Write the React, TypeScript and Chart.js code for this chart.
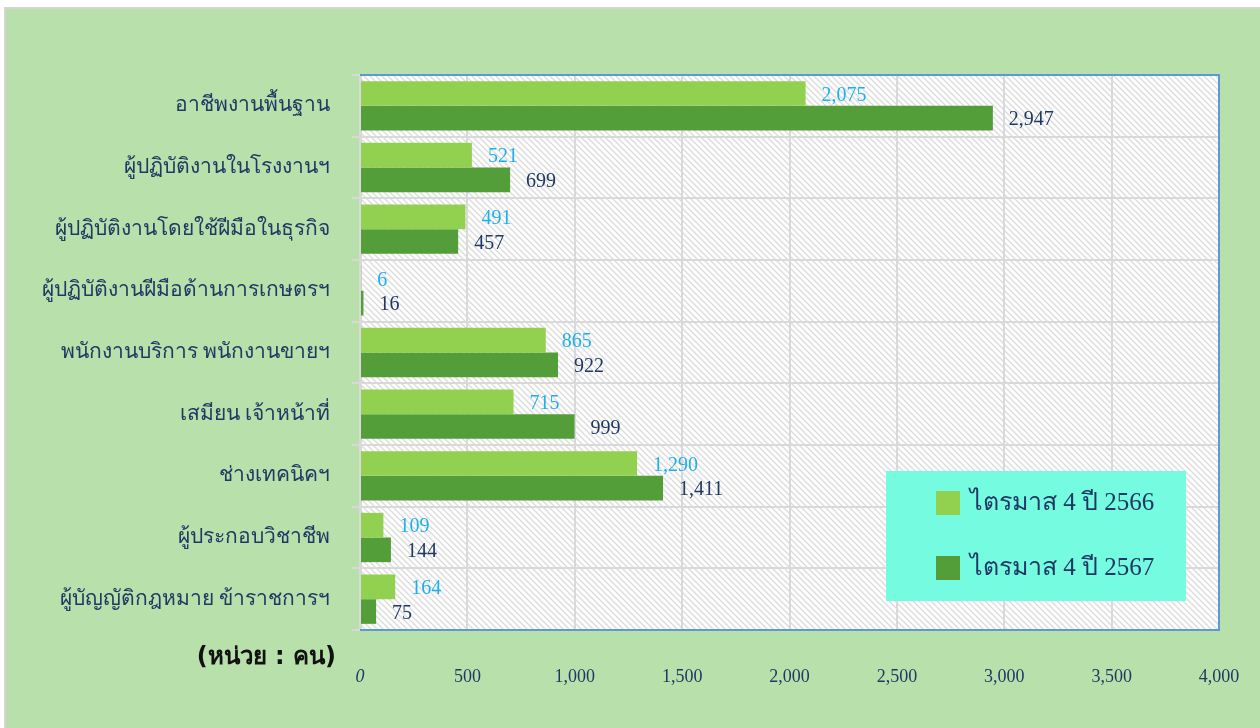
import React, { useEffect, useRef } from "react";
import { Chart, registerables } from "chart.js";

Chart.register(...registerables);

const categories = [
  "อาชีพงานพื้นฐาน",
  "ผู้ปฏิบัติงานในโรงงานฯ",
  "ผู้ปฏิบัติงานโดยใช้ฝีมือในธุรกิจ",
  "ผู้ปฏิบัติงานฝีมือด้านการเกษตรฯ",
  "พนักงานบริการ พนักงานขายฯ",
  "เสมียน เจ้าหน้าที่",
  "ช่างเทคนิคฯ",
  "ผู้ประกอบวิชาชีพ",
  "ผู้บัญญัติกฎหมาย ข้าราชการฯ",
];
const values2566 = [2075, 521, 491, 6, 865, 715, 1290, 109, 164];
const values2567 = [2947, 699, 457, 16, 922, 999, 1411, 144, 75];
const seriesLabels = ["ไตรมาส 4 ปี 2566", "ไตรมาส 4 ปี 2567"];
const unitLabel = "(หน่วย : คน)";
const xMin = 0;
const xMax = 4000;
const xStep = 500;

const NAVY = "#1f3864";
const LIGHT_BLUE = "#1cb0ee";
const LIGHT_GREEN = "#92d050";
const DARK_GREEN = "#549e3a";
const GRID = "#d9d9d9";
const SERIF = "'Liberation Serif', 'Times New Roman', serif";
const fmt = (v: number) => v.toLocaleString("en-US");

function makePattern(ctx: CanvasRenderingContext2D) {
  const c = document.createElement("canvas");
  c.width = 6;
  c.height = 6;
  const p = c.getContext("2d")!;
  p.fillStyle = "#ffffff";
  p.fillRect(0, 0, 6, 6);
  p.strokeStyle = "#dcdcdc";
  p.lineWidth = 1.4;
  p.beginPath();
  p.moveTo(-1, -1);
  p.lineTo(7, 7);
  p.moveTo(-4, 2);
  p.lineTo(4, 10);
  p.moveTo(2, -4);
  p.lineTo(10, 4);
  p.stroke();
  return ctx.createPattern(c, "repeat");
}

const bgPlugin = {
  id: "bgPlugin",
  beforeDraw(chart: any) {
    const { ctx, chartArea } = chart;
    const { left, top, right, bottom } = chartArea;
    ctx.save();
    ctx.fillStyle = makePattern(ctx) || "#fff";
    ctx.fillRect(left, top, right - left, bottom - top);
    ctx.restore();
  },
  afterDraw(chart: any) {
    const { ctx, chartArea } = chart;
    const { left, top, right, bottom } = chartArea;
    ctx.save();
    ctx.strokeStyle = "#5b9bd5";
    ctx.lineWidth = 2;
    ctx.beginPath();
    ctx.moveTo(left, top);
    ctx.lineTo(right, top);
    ctx.lineTo(right, bottom);
    ctx.lineTo(left, bottom);
    ctx.stroke();

    const lx = 886, ly = 471, lw = 300, lh = 130;
    ctx.fillStyle = "#75fbdf";
    ctx.fillRect(lx, ly, lw, lh);
    const colors = [LIGHT_GREEN, DARK_GREEN];
    const ys = [503, 568];
    ctx.font = `25px ${SERIF}`;
    ctx.textAlign = "left";
    ctx.textBaseline = "middle";
    for (let i = 0; i < 2; i++) {
      ctx.fillStyle = colors[i];
      ctx.fillRect(936, ys[i] - 12, 24, 24);
      ctx.fillStyle = NAVY;
      ctx.fillText(seriesLabels[i], 970, ys[i]);
    }

    ctx.fillStyle = "#111111";
    ctx.font = `bold 24px Tahoma, 'DejaVu Sans', sans-serif`;
    ctx.textAlign = "right";
    ctx.fillText(unitLabel, 336, 658);
    ctx.restore();
  },
  afterDatasetsDraw(chart: any) {
    const { ctx } = chart;
    ctx.save();
    ctx.font = `20px ${SERIF}`;
    ctx.textAlign = "left";
    ctx.textBaseline = "middle";
    chart.data.datasets.forEach((ds: any, di: number) => {
      const meta = chart.getDatasetMeta(di);
      ctx.fillStyle = di === 0 ? LIGHT_BLUE : NAVY;
      meta.data.forEach((el: any, i: number) => {
        ctx.fillText(fmt(ds.data[i]), el.x + 16, el.y + 2);
      });
    });
    ctx.restore();
  },
};

export default function App() {
  const ref = useRef<HTMLCanvasElement>(null);
  useEffect(() => {
    if (!ref.current) return;
    const chart = new Chart(ref.current, {
      type: "bar",
      data: {
        labels: categories,
        datasets: [
          {
            label: seriesLabels[0],
            data: values2566,
            backgroundColor: LIGHT_GREEN,
            categoryPercentage: 0.8,
            barPercentage: 1.0,
          },
          {
            label: seriesLabels[1],
            data: values2567,
            backgroundColor: DARK_GREEN,
            categoryPercentage: 0.8,
            barPercentage: 1.0,
          },
        ],
      },
      options: {
        indexAxis: "y",
        responsive: false,
        animation: false,
        layout: { padding: { left: 0, top: 75, right: 41, bottom: 0 } },
        plugins: { legend: { display: false }, tooltip: { enabled: false } },
        scales: {
          x: {
            min: xMin,
            max: xMax,
            ticks: {
              stepSize: xStep,
              color: NAVY,
              padding: 36,
              maxRotation: 0,
              font: (c: any) => ({
                family: SERIF,
                size: 18,
                style: c.tick && c.tick.value === 0 ? "italic" : "normal",
              }),
              callback: (v: any) => fmt(Number(v)),
            },
            grid: { color: GRID, lineWidth: 2, drawTicks: false },
            border: { display: false },
            afterFit: (s: any) => {
              s.height = 98;
              s.paddingLeft = 0;
              s.paddingRight = 0;
            },
          },
          y: {
            ticks: {
              color: NAVY,
              padding: 22,
              font: { family: SERIF, size: 21 },
            },
            grid: { color: GRID, lineWidth: 2, tickLength: 8, offset: true },
            border: { color: GRID, width: 3 },
            afterFit: (s: any) => {
              s.width = 360;
              s.paddingTop = 0;
              s.paddingBottom = 0;
            },
          },
        },
      },
      plugins: [bgPlugin],
    });
    return () => chart.destroy();
  }, []);

  return (
    <div style={{ position: "fixed", left: 0, top: 0, width: 1260, height: 728, background: "#ffffff" }}>
      <div
        style={{
          position: "absolute",
          left: 4,
          top: 7,
          right: 0,
          bottom: 0,
          borderLeft: "2px solid #d4d4d4",
          borderTop: "2px solid #d4d4d4",
          background: "#b8e0aa",
        }}
      />
      <canvas
        ref={ref}
        width={1260}
        height={728}
        style={{ position: "absolute", left: 0, top: 0, width: 1260, height: 728 }}
      />
    </div>
  );
}
